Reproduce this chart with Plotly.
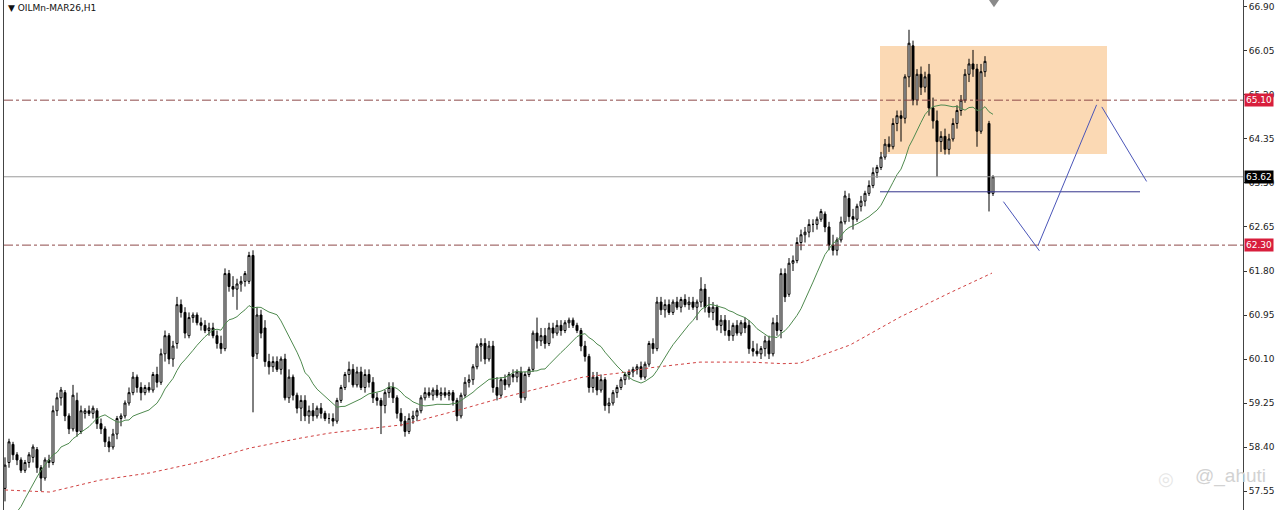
import plotly.graph_objects as go
import pandas as pd

# ---------------- data ----------------
symbol_title = "OILMn-MAR26,H1"

opens = [57.60,58.10,58.45,58.25,58.15,57.95,58.10,58.20,58.35,58.00,57.80,58.15,58.10,59.10,59.35,59.45,59.00,58.75,59.30,58.70,
         59.05,59.10,59.05,59.10,58.85,58.75,58.50,58.40,58.65,58.95,59.00,59.25,59.45,59.75,59.55,59.45,59.55,59.50,59.80,59.65,
         60.20,60.55,60.10,60.40,61.15,61.00,60.55,60.90,60.95,60.80,60.75,60.65,60.70,60.55,60.40,60.30,61.75,61.50,61.45,61.55,
         61.60,61.60,62.10,60.20,60.95,60.70,60.05,59.95,60.05,59.90,60.10,59.35,59.75,59.40,59.15,59.30,59.00,59.10,59.00,59.15,
         59.05,58.95,58.95,58.90,59.30,59.55,59.80,59.90,59.60,59.85,59.55,59.80,59.65,59.35,59.30,59.20,59.45,59.55,59.35,59.05,
         58.90,58.70,58.95,59.00,59.10,59.35,59.45,59.40,59.50,59.40,59.45,59.40,59.45,59.30,59.00,59.40,59.65,59.70,59.95,60.35,
         60.40,60.10,60.35,59.55,59.40,59.70,59.60,59.80,59.75,59.85,59.35,59.80,59.90,60.60,60.45,60.55,60.40,60.70,60.60,60.75,
         60.65,60.80,60.85,60.75,60.65,60.35,60.15,59.55,59.75,59.50,59.70,59.20,59.25,59.45,59.55,59.70,59.80,59.85,59.90,59.95,
         59.75,60.00,60.40,60.30,61.20,61.05,61.15,61.00,61.20,61.10,61.25,61.15,61.20,61.10,61.20,61.45,61.10,61.00,61.10,60.75,
         60.85,60.65,60.55,60.75,60.60,60.80,60.75,60.30,60.25,60.20,60.30,60.45,60.20,60.80,60.65,61.75,61.35,61.95,62.00,62.35,
         62.50,62.55,62.70,62.70,62.80,62.90,62.65,62.30,62.20,62.40,62.75,63.20,62.85,62.80,63.05,63.15,63.30,63.45,63.70,63.80,
         64.00,64.25,64.20,64.65,64.80,64.75,65.55,66.15,65.10,65.60,65.35,65.60,64.95,64.70,64.30,64.40,64.15,64.35,64.65,64.90,
         65.10,65.60,65.80,65.70,64.50,65.65,64.65,63.30]
highs = [58.20,58.56,58.50,58.30,58.20,58.15,58.30,58.45,58.40,58.05,58.20,58.25,59.20,59.45,59.56,59.50,59.05,59.60,59.45,59.20,
         59.15,59.20,59.20,59.15,58.95,58.80,58.60,58.75,59.00,59.05,59.30,59.55,59.85,59.80,59.65,59.60,59.65,59.85,59.95,60.30,
         60.65,60.60,60.45,61.30,61.25,61.10,61.00,61.00,61.00,60.90,60.85,60.80,60.80,60.65,60.55,61.85,61.82,61.70,61.65,61.70,
         61.80,62.17,62.20,61.10,61.05,60.85,60.20,60.15,60.15,60.15,60.20,59.90,59.80,59.45,59.40,59.40,59.20,59.25,59.20,59.25,
         59.10,59.05,59.05,59.35,59.60,59.85,60.05,60.00,59.95,59.95,59.90,59.90,59.75,59.45,59.35,59.50,59.65,59.65,59.40,59.15,
         59.00,59.05,59.10,59.15,59.40,59.55,59.55,59.55,59.60,59.55,59.55,59.50,59.50,59.35,59.45,59.75,59.80,60.00,60.40,60.50,
         60.50,60.45,60.45,59.75,59.75,59.80,59.85,59.90,59.90,59.95,59.85,59.95,60.65,60.90,60.70,60.70,60.80,60.80,60.85,60.85,
         60.85,60.90,60.90,60.80,60.70,60.45,60.20,59.85,59.85,59.80,59.75,59.35,59.50,59.60,59.75,59.85,59.90,59.95,60.00,60.05,
         60.05,60.45,60.50,61.30,61.30,61.25,61.25,61.25,61.30,61.30,61.35,61.30,61.30,61.25,61.68,61.55,61.30,61.20,61.15,60.95,
         60.95,60.85,60.80,60.85,60.85,60.90,60.85,60.45,60.40,60.35,60.55,60.55,60.90,60.95,61.85,61.85,62.05,62.10,62.45,62.60,
         62.65,62.80,62.80,62.85,63.00,62.95,62.75,62.50,62.45,62.85,63.35,63.30,63.00,63.10,63.25,63.35,63.55,63.80,63.85,64.10,
         64.35,64.40,64.75,64.90,64.90,65.60,66.46,66.25,65.70,65.75,65.65,65.80,65.15,64.90,64.50,64.55,64.45,64.75,65.00,65.20,
         65.70,65.90,66.07,65.80,65.80,65.95,64.70,63.65]
lows = [57.35,58.00,58.15,58.05,57.90,57.90,58.00,58.10,57.90,57.55,57.75,58.00,58.05,59.00,59.20,58.90,58.65,58.70,58.60,58.65,
        58.95,59.00,58.95,58.75,58.65,58.40,58.30,58.35,58.55,58.80,58.95,59.20,59.40,59.45,59.30,59.40,59.45,59.45,59.55,59.60,
        60.05,60.00,59.95,60.30,60.90,60.50,60.50,60.80,60.75,60.65,60.60,60.55,60.50,60.30,60.20,60.25,61.40,61.30,61.05,61.40,
        61.50,61.55,59.07,60.10,60.50,59.95,59.80,59.85,59.85,59.80,59.30,59.25,59.30,59.05,58.90,58.90,58.85,58.90,58.95,58.95,
        58.90,58.85,58.80,58.85,59.25,59.50,59.65,59.55,59.55,59.50,59.45,59.55,59.25,59.20,58.65,59.05,59.35,59.25,58.95,58.80,
        58.60,58.65,58.85,58.90,59.05,59.30,59.35,59.30,59.35,59.30,59.35,59.30,59.20,58.90,58.95,59.35,59.55,59.60,59.90,60.05,
        60.00,60.05,59.45,59.30,59.35,59.50,59.55,59.65,59.65,59.25,59.30,59.75,59.85,60.30,60.35,60.30,60.35,60.50,60.55,60.55,
        60.60,60.70,60.70,60.60,60.25,60.05,59.45,59.45,59.40,59.45,59.10,59.05,59.20,59.35,59.50,59.60,59.70,59.75,59.80,59.70,
        59.70,59.95,60.20,60.25,60.95,60.90,60.95,60.95,61.05,61.00,61.10,61.05,61.05,60.85,61.10,61.00,60.90,60.85,60.65,60.60,
        60.55,60.45,60.45,60.55,60.55,60.60,60.20,60.15,60.15,60.10,60.15,60.10,60.15,60.55,60.50,61.20,61.30,61.80,61.95,62.20,
        62.35,62.45,62.55,62.60,62.75,62.55,62.20,62.10,62.10,62.35,62.70,62.75,62.60,62.75,62.95,63.05,63.25,63.40,63.60,63.75,
        63.95,64.10,64.15,64.50,64.30,64.65,65.35,65.00,65.00,65.20,65.25,64.80,64.55,63.62,64.10,64.05,64.05,64.30,64.55,64.80,
        65.05,65.45,65.55,64.20,64.45,65.55,62.95,63.25]
closes = [58.05,58.50,58.25,58.15,57.95,58.10,58.25,58.40,58.00,57.80,58.15,58.10,59.10,59.35,59.50,59.00,58.75,59.40,58.70,59.10,
          59.10,59.05,59.15,58.85,58.75,58.50,58.40,58.65,58.95,59.00,59.25,59.45,59.75,59.55,59.45,59.55,59.50,59.80,59.65,60.20,
          60.55,60.10,60.35,61.15,61.00,60.60,60.90,60.95,60.80,60.75,60.65,60.70,60.55,60.40,60.30,61.75,61.50,61.45,61.55,61.60,
          61.75,62.10,60.15,60.95,60.60,60.05,59.95,60.05,59.90,60.10,59.35,59.75,59.40,59.15,59.30,59.00,59.10,59.00,59.15,59.05,
          58.95,58.95,58.90,59.30,59.55,59.80,59.90,59.60,59.85,59.55,59.80,59.65,59.35,59.30,59.20,59.45,59.55,59.35,59.05,58.90,
          58.70,58.95,59.00,59.10,59.35,59.45,59.40,59.50,59.40,59.45,59.40,59.45,59.30,59.00,59.40,59.65,59.70,59.95,60.35,60.40,
          60.10,60.35,59.55,59.40,59.70,59.60,59.80,59.75,59.85,59.35,59.80,59.90,60.60,60.45,60.55,60.40,60.70,60.60,60.75,60.65,
          60.80,60.85,60.75,60.65,60.35,60.15,59.55,59.75,59.50,59.70,59.20,59.25,59.45,59.55,59.70,59.80,59.85,59.90,59.95,59.75,
          60.00,60.40,60.30,61.20,61.05,61.15,61.00,61.20,61.10,61.25,61.15,61.20,61.10,61.20,61.45,61.10,61.00,61.10,60.75,60.85,
          60.65,60.55,60.75,60.60,60.80,60.70,60.30,60.25,60.20,60.30,60.45,60.20,60.80,60.65,61.75,61.30,61.95,62.00,62.35,62.50,
          62.55,62.70,62.70,62.80,62.95,62.65,62.30,62.20,62.40,62.75,63.25,62.85,62.80,63.05,63.15,63.30,63.45,63.70,63.80,64.00,
          64.25,64.20,64.65,64.80,64.75,65.55,66.20,65.10,65.60,65.35,65.55,64.95,64.70,64.30,64.40,64.15,64.35,64.65,64.90,65.10,
          65.60,65.80,65.70,64.50,65.65,65.85,63.30,63.62]

ma_period = 14
ma_head = [None, None, None, 57.15, 57.25, 57.40, 57.55, 57.68, 57.82, 57.95, 58.05, 58.15, 58.25]

# slow moving average (red dotted) at bar positions
slow_ma_idx = [0, 11.25, 23.75, 36.25, 48.75, 61.25, 73.75, 81.25, 99.5, 113.75, 123.75, 128.75, 144.5,
               153.75, 161.25, 173.75, 186.25, 194.5, 198.75, 211.25, 223.75, 236.25, 246.75]
slow_ma_val = [57.57, 57.53, 57.76, 57.90, 58.11, 58.38, 58.57, 58.67, 58.83, 59.12, 59.34, 59.44, 59.75,
               59.83, 59.93, 60.04, 60.04, 60.01, 60.02, 60.37, 60.91, 61.38, 61.76]

tick_vals = [57.55, 58.40, 59.25, 60.10, 60.95, 61.80, 62.65, 63.50, 64.35, 65.20, 66.05, 66.90]
tick_text = ["%.2f" % v for v in tick_vals]

resistance_level = 65.10
support_level = 62.30
bid_level = 63.62
neckline_level = 63.33
box_top, box_bottom = 66.147, 64.06
box_start, box_end = 218.75, 275.5
neck_start, neck_end = 218.75, 283.75
zigzag_segments = [((249.6, 63.14), (258.6, 62.19)),
                   ((258.3, 62.30), (272.9, 65.01)),
                   ((274.2, 64.97), (285.4, 63.53))]
y_range = [57.183, 67.035]
x_range = [-0.25, 309.5]

# ---------------- figure ----------------
idx = list(range(len(closes)))
sma = pd.Series(closes).rolling(ma_period).mean().tolist()
fast_ma = ma_head + sma[len(ma_head):]

fig = go.Figure()

fig.add_trace(go.Scatter(x=slow_ma_idx, y=slow_ma_val, mode="lines",
                         line=dict(color="#d04040", width=1, dash="dot"),
                         hoverinfo="skip", showlegend=False))

fig.add_trace(go.Candlestick(
    x=idx, open=opens, high=highs, low=lows, close=closes,
    increasing=dict(line=dict(color="#000000", width=1), fillcolor="#ffffff"),
    decreasing=dict(line=dict(color="#000000", width=1), fillcolor="#000000"),
    whiskerwidth=0, showlegend=False, hoverinfo="skip"))

fig.add_trace(go.Scatter(x=idx, y=fast_ma, mode="lines",
                         line=dict(color="#4f8a4f", width=1),
                         hoverinfo="skip", showlegend=False, connectgaps=False))

shapes = []
shapes.append(dict(type="rect", xref="x", yref="y", x0=box_start, x1=box_end,
                   y0=box_bottom, y1=box_top, fillcolor="#fbd9b4", line=dict(width=0), layer="below"))
for lvl in (resistance_level, support_level):
    shapes.append(dict(type="line", xref="paper", yref="y", x0=0, x1=1, y0=lvl, y1=lvl,
                       line=dict(color="#8e4a4a", width=1, dash="dashdot")))
shapes.append(dict(type="line", xref="paper", yref="y", x0=0, x1=1, y0=bid_level, y1=bid_level,
                   line=dict(color="#9a9a9a", width=1)))
shapes.append(dict(type="line", xref="x", yref="y", x0=neck_start, x1=neck_end,
                   y0=neckline_level, y1=neckline_level, line=dict(color="#34348c", width=1)))
for (a, b) in zigzag_segments:
    shapes.append(dict(type="line", xref="x", yref="y", x0=a[0], y0=a[1], x1=b[0], y1=b[1],
                       line=dict(color="#4a55b8", width=1)))
# chart-shift marker at top
shapes.append(dict(type="path", xref="paper", yref="paper",
                   path="M 0.7950 1 L 0.8031 1 L 0.7990 0.986 Z",
                   fillcolor="#8a8a8a", line=dict(width=0)))

annotations = []
annotations.append(dict(xref="paper", yref="paper", x=0.002, y=0.999, xanchor="left", yanchor="top",
                        text="▼ " + symbol_title, showarrow=False,
                        font=dict(family="DejaVu Sans", size=9, color="#111111")))
for lvl, bg in ((resistance_level, "#d81e3c"), (support_level, "#d81e3c"), (bid_level, "#000000")):
    annotations.append(dict(xref="paper", yref="y", x=1, y=lvl, xanchor="left", yanchor="middle",
                            xshift=1, text="%.2f" % lvl, showarrow=False, bgcolor=bg, borderpad=1,
                            font=dict(family="DejaVu Sans", size=9, color="#ffffff")))
annotations.append(dict(xref="paper", yref="paper", x=0.990, y=0.066, xanchor="center", yanchor="middle",
                        text="@_ahuti", showarrow=False,
                        font=dict(family="Liberation Sans", size=19, color="#d2d2d2")))
annotations.append(dict(xref="paper", yref="paper", x=0.938, y=0.062, xanchor="center", yanchor="middle",
                        text="◎", showarrow=False,
                        font=dict(family="DejaVu Sans", size=18, color="#e6e6e6")))

fig.update_layout(
    width=1280, height=510,
    margin=dict(l=4, r=37, t=0, b=0, autoexpand=False),
    paper_bgcolor="#ffffff", plot_bgcolor="#ffffff",
    shapes=shapes, annotations=annotations,
    xaxis=dict(range=x_range, showgrid=False, zeroline=False, showticklabels=False, automargin=False,
               rangeslider=dict(visible=False), showline=True, mirror=True,
               linecolor="#777777", linewidth=1, ticks=""),
    yaxis=dict(range=y_range, side="right", showgrid=False, zeroline=False, automargin=False,
               tickvals=tick_vals, ticktext=tick_text, ticks="outside", ticklen=3,
               tickcolor="#333333", showline=True, mirror=True, linecolor="#444444", linewidth=1,
               tickfont=dict(family="DejaVu Sans", size=9, color="#222222")),
    hovermode=False,
)

fig.write_html("out.html", config={"displayModeBar": False},
               post_script="document.body.style.margin='0';document.body.style.overflow='hidden';")
